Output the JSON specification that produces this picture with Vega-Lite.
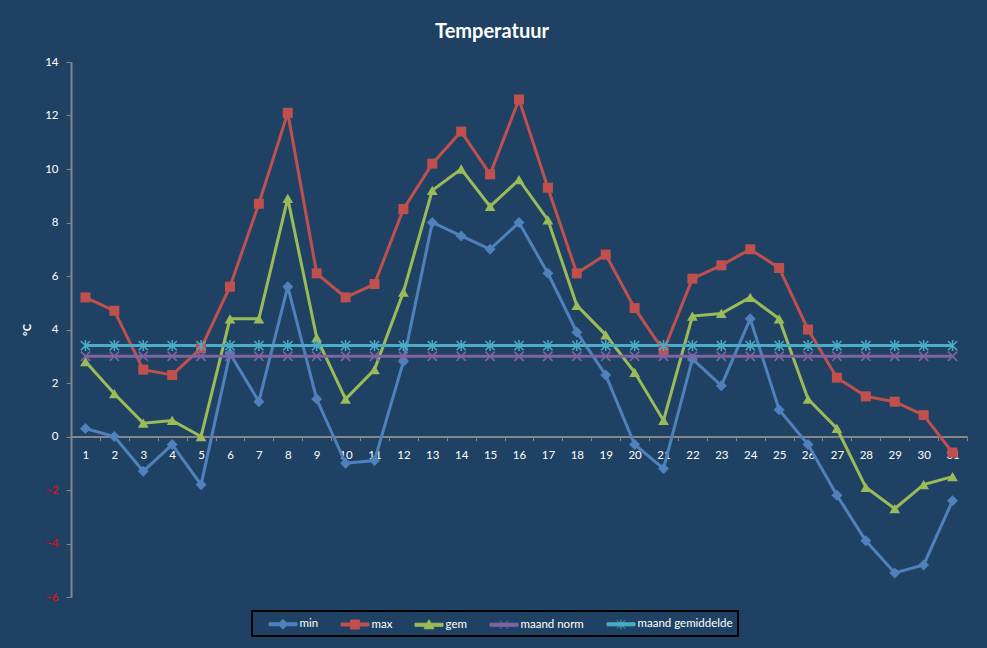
{
  "$schema": "https://vega.github.io/schema/vega-lite/v6.json",
  "description": "Temperatuur per dag",
  "width": 896,
  "height": 535,
  "autosize": {"type": "none"},
  "padding": {"left": 71, "top": 62, "right": 20, "bottom": 51},
  "background": "#1F4264",
  "title": {
    "text": "Temperatuur",
    "font": "Lato",
    "fontSize": 20,
    "fontWeight": "bold",
    "color": "white",
    "anchor": "middle",
    "dx": -27,
    "offset": 14
  },
  "data": {
    "values": [
      {"dag": 1, "reeks": "min", "temp": 0.3},
      {"dag": 2, "reeks": "min", "temp": 0.0},
      {"dag": 3, "reeks": "min", "temp": -1.3},
      {"dag": 4, "reeks": "min", "temp": -0.3},
      {"dag": 5, "reeks": "min", "temp": -1.8},
      {"dag": 6, "reeks": "min", "temp": 3.1},
      {"dag": 7, "reeks": "min", "temp": 1.3},
      {"dag": 8, "reeks": "min", "temp": 5.6},
      {"dag": 9, "reeks": "min", "temp": 1.4},
      {"dag": 10, "reeks": "min", "temp": -1.0},
      {"dag": 11, "reeks": "min", "temp": -0.9},
      {"dag": 12, "reeks": "min", "temp": 2.8},
      {"dag": 13, "reeks": "min", "temp": 8.0},
      {"dag": 14, "reeks": "min", "temp": 7.5},
      {"dag": 15, "reeks": "min", "temp": 7.0},
      {"dag": 16, "reeks": "min", "temp": 8.0},
      {"dag": 17, "reeks": "min", "temp": 6.1},
      {"dag": 18, "reeks": "min", "temp": 3.9},
      {"dag": 19, "reeks": "min", "temp": 2.3},
      {"dag": 20, "reeks": "min", "temp": -0.3},
      {"dag": 21, "reeks": "min", "temp": -1.2},
      {"dag": 22, "reeks": "min", "temp": 2.9},
      {"dag": 23, "reeks": "min", "temp": 1.9},
      {"dag": 24, "reeks": "min", "temp": 4.4},
      {"dag": 25, "reeks": "min", "temp": 1.0},
      {"dag": 26, "reeks": "min", "temp": -0.3},
      {"dag": 27, "reeks": "min", "temp": -2.2},
      {"dag": 28, "reeks": "min", "temp": -3.9},
      {"dag": 29, "reeks": "min", "temp": -5.1},
      {"dag": 30, "reeks": "min", "temp": -4.8},
      {"dag": 31, "reeks": "min", "temp": -2.4},
      {"dag": 1, "reeks": "max", "temp": 5.2},
      {"dag": 2, "reeks": "max", "temp": 4.7},
      {"dag": 3, "reeks": "max", "temp": 2.5},
      {"dag": 4, "reeks": "max", "temp": 2.3},
      {"dag": 5, "reeks": "max", "temp": 3.3},
      {"dag": 6, "reeks": "max", "temp": 5.6},
      {"dag": 7, "reeks": "max", "temp": 8.7},
      {"dag": 8, "reeks": "max", "temp": 12.1},
      {"dag": 9, "reeks": "max", "temp": 6.1},
      {"dag": 10, "reeks": "max", "temp": 5.2},
      {"dag": 11, "reeks": "max", "temp": 5.7},
      {"dag": 12, "reeks": "max", "temp": 8.5},
      {"dag": 13, "reeks": "max", "temp": 10.2},
      {"dag": 14, "reeks": "max", "temp": 11.4},
      {"dag": 15, "reeks": "max", "temp": 9.8},
      {"dag": 16, "reeks": "max", "temp": 12.6},
      {"dag": 17, "reeks": "max", "temp": 9.3},
      {"dag": 18, "reeks": "max", "temp": 6.1},
      {"dag": 19, "reeks": "max", "temp": 6.8},
      {"dag": 20, "reeks": "max", "temp": 4.8},
      {"dag": 21, "reeks": "max", "temp": 3.2},
      {"dag": 22, "reeks": "max", "temp": 5.9},
      {"dag": 23, "reeks": "max", "temp": 6.4},
      {"dag": 24, "reeks": "max", "temp": 7.0},
      {"dag": 25, "reeks": "max", "temp": 6.3},
      {"dag": 26, "reeks": "max", "temp": 4.0},
      {"dag": 27, "reeks": "max", "temp": 2.2},
      {"dag": 28, "reeks": "max", "temp": 1.5},
      {"dag": 29, "reeks": "max", "temp": 1.3},
      {"dag": 30, "reeks": "max", "temp": 0.8},
      {"dag": 31, "reeks": "max", "temp": -0.6},
      {"dag": 1, "reeks": "gem", "temp": 2.8},
      {"dag": 2, "reeks": "gem", "temp": 1.6},
      {"dag": 3, "reeks": "gem", "temp": 0.5},
      {"dag": 4, "reeks": "gem", "temp": 0.6},
      {"dag": 5, "reeks": "gem", "temp": 0.0},
      {"dag": 6, "reeks": "gem", "temp": 4.4},
      {"dag": 7, "reeks": "gem", "temp": 4.4},
      {"dag": 8, "reeks": "gem", "temp": 8.9},
      {"dag": 9, "reeks": "gem", "temp": 3.7},
      {"dag": 10, "reeks": "gem", "temp": 1.4},
      {"dag": 11, "reeks": "gem", "temp": 2.5},
      {"dag": 12, "reeks": "gem", "temp": 5.4},
      {"dag": 13, "reeks": "gem", "temp": 9.2},
      {"dag": 14, "reeks": "gem", "temp": 10.0},
      {"dag": 15, "reeks": "gem", "temp": 8.6},
      {"dag": 16, "reeks": "gem", "temp": 9.6},
      {"dag": 17, "reeks": "gem", "temp": 8.1},
      {"dag": 18, "reeks": "gem", "temp": 4.9},
      {"dag": 19, "reeks": "gem", "temp": 3.8},
      {"dag": 20, "reeks": "gem", "temp": 2.4},
      {"dag": 21, "reeks": "gem", "temp": 0.6},
      {"dag": 22, "reeks": "gem", "temp": 4.5},
      {"dag": 23, "reeks": "gem", "temp": 4.6},
      {"dag": 24, "reeks": "gem", "temp": 5.2},
      {"dag": 25, "reeks": "gem", "temp": 4.4},
      {"dag": 26, "reeks": "gem", "temp": 1.4},
      {"dag": 27, "reeks": "gem", "temp": 0.3},
      {"dag": 28, "reeks": "gem", "temp": -1.9},
      {"dag": 29, "reeks": "gem", "temp": -2.7},
      {"dag": 30, "reeks": "gem", "temp": -1.8},
      {"dag": 31, "reeks": "gem", "temp": -1.5},
      {"dag": 1, "reeks": "maand norm", "temp": 3.0},
      {"dag": 2, "reeks": "maand norm", "temp": 3.0},
      {"dag": 3, "reeks": "maand norm", "temp": 3.0},
      {"dag": 4, "reeks": "maand norm", "temp": 3.0},
      {"dag": 5, "reeks": "maand norm", "temp": 3.0},
      {"dag": 6, "reeks": "maand norm", "temp": 3.0},
      {"dag": 7, "reeks": "maand norm", "temp": 3.0},
      {"dag": 8, "reeks": "maand norm", "temp": 3.0},
      {"dag": 9, "reeks": "maand norm", "temp": 3.0},
      {"dag": 10, "reeks": "maand norm", "temp": 3.0},
      {"dag": 11, "reeks": "maand norm", "temp": 3.0},
      {"dag": 12, "reeks": "maand norm", "temp": 3.0},
      {"dag": 13, "reeks": "maand norm", "temp": 3.0},
      {"dag": 14, "reeks": "maand norm", "temp": 3.0},
      {"dag": 15, "reeks": "maand norm", "temp": 3.0},
      {"dag": 16, "reeks": "maand norm", "temp": 3.0},
      {"dag": 17, "reeks": "maand norm", "temp": 3.0},
      {"dag": 18, "reeks": "maand norm", "temp": 3.0},
      {"dag": 19, "reeks": "maand norm", "temp": 3.0},
      {"dag": 20, "reeks": "maand norm", "temp": 3.0},
      {"dag": 21, "reeks": "maand norm", "temp": 3.0},
      {"dag": 22, "reeks": "maand norm", "temp": 3.0},
      {"dag": 23, "reeks": "maand norm", "temp": 3.0},
      {"dag": 24, "reeks": "maand norm", "temp": 3.0},
      {"dag": 25, "reeks": "maand norm", "temp": 3.0},
      {"dag": 26, "reeks": "maand norm", "temp": 3.0},
      {"dag": 27, "reeks": "maand norm", "temp": 3.0},
      {"dag": 28, "reeks": "maand norm", "temp": 3.0},
      {"dag": 29, "reeks": "maand norm", "temp": 3.0},
      {"dag": 30, "reeks": "maand norm", "temp": 3.0},
      {"dag": 31, "reeks": "maand norm", "temp": 3.0},
      {"dag": 1, "reeks": "maand gemiddelde", "temp": 3.4},
      {"dag": 2, "reeks": "maand gemiddelde", "temp": 3.4},
      {"dag": 3, "reeks": "maand gemiddelde", "temp": 3.4},
      {"dag": 4, "reeks": "maand gemiddelde", "temp": 3.4},
      {"dag": 5, "reeks": "maand gemiddelde", "temp": 3.4},
      {"dag": 6, "reeks": "maand gemiddelde", "temp": 3.4},
      {"dag": 7, "reeks": "maand gemiddelde", "temp": 3.4},
      {"dag": 8, "reeks": "maand gemiddelde", "temp": 3.4},
      {"dag": 9, "reeks": "maand gemiddelde", "temp": 3.4},
      {"dag": 10, "reeks": "maand gemiddelde", "temp": 3.4},
      {"dag": 11, "reeks": "maand gemiddelde", "temp": 3.4},
      {"dag": 12, "reeks": "maand gemiddelde", "temp": 3.4},
      {"dag": 13, "reeks": "maand gemiddelde", "temp": 3.4},
      {"dag": 14, "reeks": "maand gemiddelde", "temp": 3.4},
      {"dag": 15, "reeks": "maand gemiddelde", "temp": 3.4},
      {"dag": 16, "reeks": "maand gemiddelde", "temp": 3.4},
      {"dag": 17, "reeks": "maand gemiddelde", "temp": 3.4},
      {"dag": 18, "reeks": "maand gemiddelde", "temp": 3.4},
      {"dag": 19, "reeks": "maand gemiddelde", "temp": 3.4},
      {"dag": 20, "reeks": "maand gemiddelde", "temp": 3.4},
      {"dag": 21, "reeks": "maand gemiddelde", "temp": 3.4},
      {"dag": 22, "reeks": "maand gemiddelde", "temp": 3.4},
      {"dag": 23, "reeks": "maand gemiddelde", "temp": 3.4},
      {"dag": 24, "reeks": "maand gemiddelde", "temp": 3.4},
      {"dag": 25, "reeks": "maand gemiddelde", "temp": 3.4},
      {"dag": 26, "reeks": "maand gemiddelde", "temp": 3.4},
      {"dag": 27, "reeks": "maand gemiddelde", "temp": 3.4},
      {"dag": 28, "reeks": "maand gemiddelde", "temp": 3.4},
      {"dag": 29, "reeks": "maand gemiddelde", "temp": 3.4},
      {"dag": 30, "reeks": "maand gemiddelde", "temp": 3.4},
      {"dag": 31, "reeks": "maand gemiddelde", "temp": 3.4}
    ]
  },
  "encoding": {
    "x": {
      "field": "dag",
      "type": "ordinal",
      "bandPosition": 0.5,
      "scale": {"type": "band", "paddingInner": 0, "paddingOuter": 0},
      "axis": {
        "title": null,
        "labelAngle": 0,
        "offset": {"expr": "scale('y', 0) - height"},
        "tickBand": "extent",
        "tickSize": 4,
        "labelPadding": 9,
        "domainWidth": 2
      }
    },
    "y": {
      "field": "temp",
      "type": "quantitative",
      "scale": {"domain": [-6, 14], "nice": false, "zero": false},
      "axis": {
        "title": "°C",
        "titleAngle": -90,
        "titleFontWeight": "bold",
        "titleFontSize": 11,
        "titleColor": "white",
        "titlePadding": 12,
        "values": [-6, -4, -2, 0, 2, 4, 6, 8, 10, 12, 14],
        "tickSize": 5,
        "labelPadding": 8,
        "domainWidth": 2,
        "labelColor": {"expr": "datum.value < 0 ? '#FF0000' : '#FFFFFF'"}
      }
    },
    "color": {
      "field": "reeks",
      "type": "nominal",
      "scale": {
        "domain": ["min", "max", "gem", "maand norm", "maand gemiddelde"],
        "range": ["#4F81BD", "#C0504D", "#9BBB59", "#8064A2", "#4BACC6"]
      },
      "legend": {
        "title": null,
        "orient": "none",
        "legendX": 181,
        "legendY": 549,
        "direction": "horizontal",
        "columns": 5,
        "padding": 4.5,
        "strokeColor": "#000000",
        "symbolSize": 256,
        "labelOffset": 26,
        "columnPadding": 10,
        "labelColor": "white",
        "labelFont": "Lato",
        "labelFontSize": 11.5,
        "encode": {
          "legend": {
            "update": {"strokeWidth": {"value": 2}}
          },
          "symbols": {
            "update": {
              "shape": {"signal": "datum.value === 'min' ? 'M0.5,-0.19H4V0.19H0.5Z M2.25,-0.62L2.85,0L2.25,0.62L1.65,0Z' : datum.value === 'max' ? 'M0.5,-0.19H4V0.19H0.5Z M1.69,-0.56H2.81V0.56H1.69Z' : datum.value === 'gem' ? 'M0.5,-0.19H4V0.19H0.5Z M2.25,-0.62L2.87,0.5H1.63Z' : datum.value === 'maand norm' ? 'M0.5,-0.19H4V0.19H0.5Z M1.75,-0.5L2.75,0.5M1.75,0.5L2.75,-0.5' : 'M0.5,-0.19H4V0.19H0.5Z M1.75,-0.5L2.75,0.5M1.75,0.5L2.75,-0.5M2.25,-0.6V0.6'"},
              "fill": {"signal": "scale('color', datum.value)"},
              "stroke": {"signal": "scale('color', datum.value)"},
              "strokeWidth": {"value": 1},
              "opacity": {"value": 1}
            }
          }
        }
      }
    }
  },
  "layer": [
    {
      "mark": {"type": "line", "strokeWidth": 3}
    },
    {
      "transform": [{"filter": "datum.reeks === 'min'"}],
      "mark": {"type": "point", "shape": "diamond", "filled": true, "opacity": 1, "size": 120}
    },
    {
      "transform": [{"filter": "datum.reeks === 'max'"}],
      "mark": {"type": "point", "shape": "square", "filled": true, "opacity": 1, "size": 100}
    },
    {
      "transform": [{"filter": "datum.reeks === 'gem'"}],
      "mark": {"type": "point", "shape": "triangle-up", "filled": true, "opacity": 1, "size": 115}
    },
    {
      "transform": [{"filter": "datum.reeks === 'maand norm'"}],
      "mark": {"type": "point", "shape": "M-1,-1L1,1M-1,1L1,-1", "filled": false, "opacity": 1, "size": 85, "strokeWidth": 1.5}
    },
    {
      "transform": [{"filter": "datum.reeks === 'maand gemiddelde'"}],
      "mark": {"type": "point", "shape": "M-1,-1L1,1M-1,1L1,-1M0,-1.2V1.2", "filled": false, "opacity": 1, "size": 85, "strokeWidth": 1.5}
    }
  ],
  "config": {
    "view": {"stroke": null},
    "axis": {
      "grid": false,
      "domainColor": "#868686",
      "tickColor": "#868686",
      "labelColor": "white",
      "labelFont": "Lato",
      "labelFontSize": 11.5,
      "titleFont": "Lato"
    }
  }
}
